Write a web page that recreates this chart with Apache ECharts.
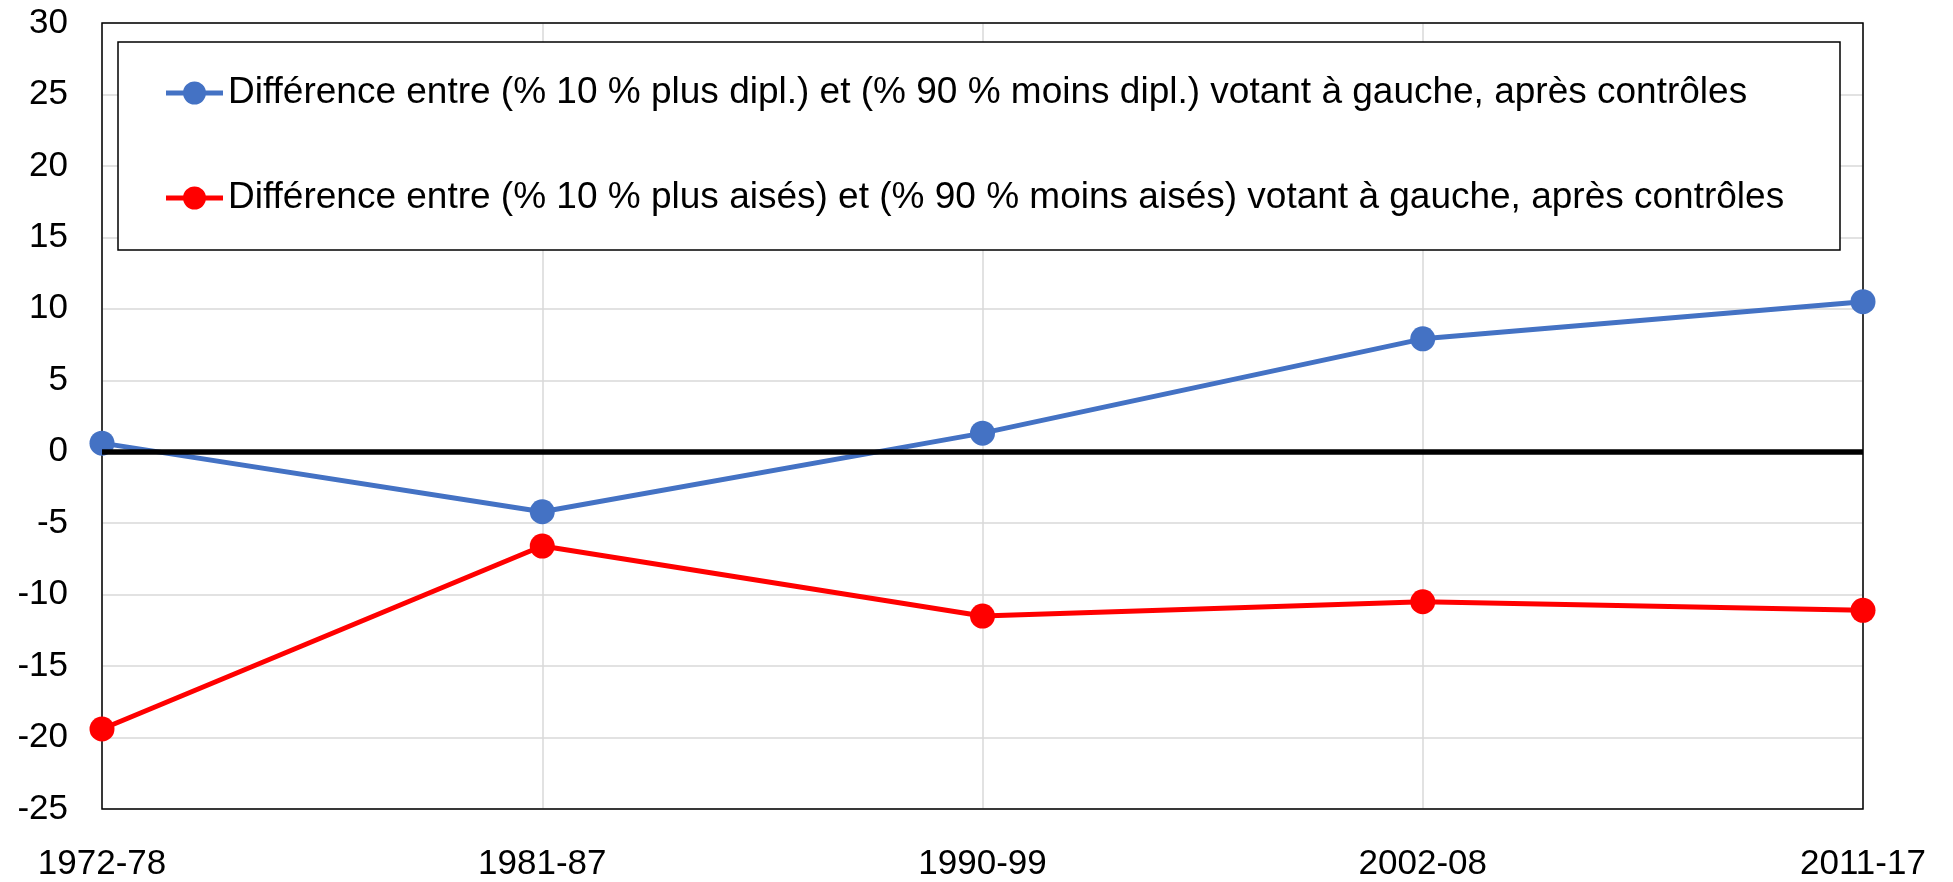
<!DOCTYPE html>
<html>
<head>
<meta charset="utf-8">
<script src="https://cdn.jsdelivr.net/npm/echarts@6/dist/echarts.min.js"></script>
<style>
html,body{margin:0;padding:0;background:#fff;}
#chart{width:1953px;height:882px;}
</style>
</head>
<body>
<div id="chart"></div>
<script>
var categories = ['1972-78', '1981-87', '1990-99', '2002-08', '2011-17'];
var diplValues = [0.6, -4.2, 1.3, 7.9, 10.5];
var aisesValues = [-19.4, -6.6, -11.5, -10.5, -11.1];
var seriesNames = [
  'Différence entre (% 10 % plus dipl.) et (% 90 % moins dipl.) votant à gauche, après contrôles',
  'Différence entre (% 10 % plus aisés) et (% 90 % moins aisés) votant à gauche, après contrôles'
];
var yMin = -25, yMax = 30, yStep = 5;

var FONT = '"Liberation Sans", Arial, sans-serif';
var G = {left: 102, top: 23, right: 90, bottom: 73};
var W = 1953, H = 882;
var legendIcon = 'path://M0,9 L57,9 L57,14 L0,14 Z M17,11.5 A11.5,11.5 0 1,1 40,11.5 A11.5,11.5 0 1,1 17,11.5 Z';

var chart = echarts.init(document.getElementById('chart'), null, {renderer: 'canvas'});
chart.setOption({
  backgroundColor: '#fff',
  animation: false,
  textStyle: {fontFamily: FONT},
  grid: {left: G.left, top: G.top, right: G.right, bottom: G.bottom, containLabel: false},
  graphic: [
    {type: 'rect', z: 1, silent: true,
     shape: {x: G.left, y: G.top, width: W - G.left - G.right, height: H - G.top - G.bottom},
     style: {fill: null, stroke: '#000', lineWidth: 1.5}},
    {type: 'rect', z: 3, silent: true,
     shape: {x: 118, y: 42, width: 1722, height: 208},
     style: {fill: '#fff', stroke: '#000', lineWidth: 1.5}}
  ],
  legend: {
    orient: 'vertical',
    left: 166, top: 72,
    padding: 0,
    itemGap: 63,
    itemWidth: 57, itemHeight: 23,
    icon: legendIcon,
    textStyle: {fontFamily: FONT, fontSize: 37, color: '#000', lineHeight: 42},
    data: seriesNames
  },
  xAxis: {
    type: 'category',
    data: categories,
    boundaryGap: false,
    axisLine: {show: false, onZero: false},
    axisTick: {show: false},
    axisLabel: {fontFamily: FONT, fontSize: 35, color: '#000', margin: 38,
      showMinLabel: true, showMaxLabel: true, interval: 0},
    splitLine: {show: true, lineStyle: {color: '#d9d9d9', width: 1.5}}
  },
  yAxis: {
    type: 'value',
    min: yMin, max: yMax, interval: yStep,
    axisLine: {show: false},
    axisTick: {show: false},
    axisLabel: {fontFamily: FONT, fontSize: 35, color: '#000', margin: 34},
    splitLine: {show: true, lineStyle: {color: '#d9d9d9', width: 1.5}}
  },
  series: [
    {
      name: seriesNames[0],
      type: 'line',
      data: diplValues,
      color: '#4472c4',
      symbol: 'circle', symbolSize: 25,
      lineStyle: {width: 5, color: '#4472c4'},
      itemStyle: {color: '#4472c4'},
      z: 3,
      markLine: {
        silent: true, symbol: ['none', 'none'],
        label: {show: false},
        lineStyle: {color: '#000', width: 5.5, type: 'solid'},
        data: [{yAxis: 0}]
      }
    },
    {
      name: seriesNames[1],
      type: 'line',
      data: aisesValues,
      color: '#ff0000',
      symbol: 'circle', symbolSize: 25,
      lineStyle: {width: 5, color: '#ff0000'},
      itemStyle: {color: '#ff0000'},
      z: 3
    }
  ]
});
</script>
</body>
</html>
